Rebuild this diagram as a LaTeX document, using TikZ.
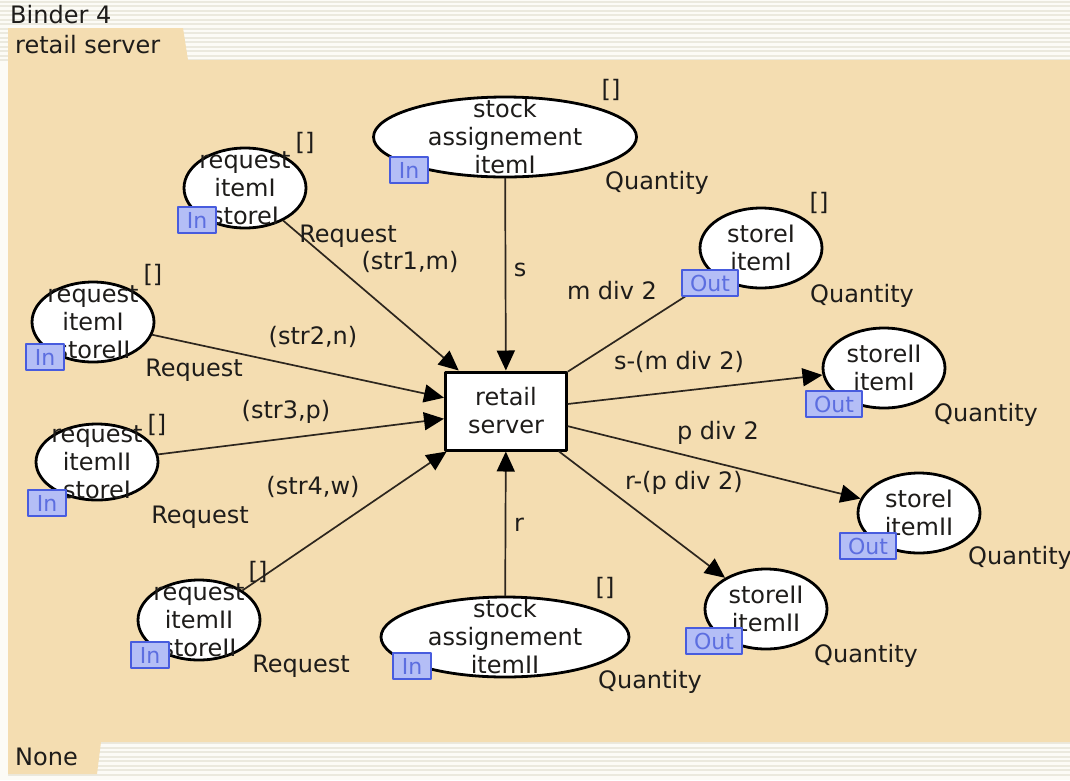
\documentclass[tikz,border=0pt]{standalone}
\usepackage{fontspec}
\setmainfont{DejaVu Sans}
\usetikzlibrary{arrows.meta,shapes.geometric}

\definecolor{sheet}{RGB}{244,221,177}
\definecolor{paper}{RGB}{252,251,246}
\definecolor{stripe}{RGB}{235,233,222}
\definecolor{ink}{RGB}{30,28,26}
\definecolor{arcline}{RGB}{45,38,30}
\definecolor{tagfill}{RGB}{180,190,246}
\definecolor{tagline}{RGB}{72,92,222}
\definecolor{tagtext}{RGB}{92,110,224}

\newcommand{\netfont}{\fontsize{24}{28}\selectfont}
\newcommand{\tagfont}{\fontsize{22}{24}\selectfont}

\tikzset{
  place/.style={ellipse,draw=black,line width=2.8pt,fill=white,inner sep=0pt},
  placetext/.style={align=center,font=\netfont,text=ink,inner sep=0pt},
  trans/.style={rectangle,draw=black,line width=3pt,fill=white,align=center,
    font=\netfont,text=ink,minimum width=121,minimum height=78},
  arc/.style={draw=arcline,line width=1.7pt},
  lbl/.style={font=\netfont,text=ink,inner sep=0pt},
  port/.style={rectangle,draw=tagline,line width=1.4pt,fill=tagfill,text=tagtext,
    font=\tagfont,inner sep=0pt,minimum height=26},
  intag/.style={port,minimum width=38},
  outtag/.style={port,minimum width=56}
}

\begin{document}
\begin{tikzpicture}[x=1pt,y=-1pt,>={Triangle[length=20pt,width=18pt,color=black]},line cap=round,line join=round]
\useasboundingbox (0,0) rectangle (1070,780);
% window: striped bars, tabs and the sheet
\fill[paper] (0,0) rectangle (1070,780);
\foreach \y in {1.5,6,...,60} \draw[stripe,line width=2pt,line cap=butt] (0,\y) -- (1070,\y);
\foreach \y in {743,747.5,...,776} \draw[stripe,line width=2pt,line cap=butt] (8,\y) -- (1070,\y);
\fill[sheet] (8,28) -- (183,28) -- (188,60) -- (1070,60) -- (1070,742)
  -- (101,742) -- (97,774) -- (8,774) -- cycle;
\node[lbl,anchor=west] (binder) at (10,15) {Binder 4};
\node[lbl,anchor=west] (pagetab) at (15,45) {retail server};
\node[lbl,anchor=west] (statustab) at (15,757) {None};

% places
\node[place,minimum width=263,minimum height=80] (stockI) at (505,137) {};
\node[place,minimum width=122,minimum height=80] (reqIsI) at (245,188) {};
\node[place,minimum width=122,minimum height=80] (reqIsII) at (93,322) {};
\node[place,minimum width=122,minimum height=76] (reqIIsI) at (97,462) {};
\node[place,minimum width=122,minimum height=80] (reqIIsII) at (199,620) {};
\node[place,minimum width=248,minimum height=80] (stockII) at (505,637) {};
\node[place,minimum width=122,minimum height=80] (sIiI) at (761,248) {};
\node[place,minimum width=122,minimum height=80] (sIIiI) at (884,368) {};
\node[place,minimum width=122,minimum height=80] (sIiII) at (919,513) {};
\node[place,minimum width=122,minimum height=80] (sIIiII) at (766,609) {};

\node[placetext] (stockItxt) at (stockI) {stock\\assignement\\itemI};
\node[placetext] (reqIsItxt) at (reqIsI) {request\\itemI\\storeI};
\node[placetext] (reqIsIItxt) at (reqIsII) {request\\itemI\\storeII};
\node[placetext] (reqIIsItxt) at (reqIIsI) {request\\itemII\\storeI};
\node[placetext] (reqIIsIItxt) at (reqIIsII) {request\\itemII\\storeII};
\node[placetext] (stockIItxt) at (stockII) {stock\\assignement\\itemII};
\node[placetext] (sIiItxt) at (sIiI) {storeI\\itemI};
\node[placetext] (sIIiItxt) at (sIIiI) {storeII\\itemI};
\node[placetext] (sIiIItxt) at (sIiII) {storeI\\itemII};
\node[placetext] (sIIiIItxt) at (sIIiII) {storeII\\itemII};

% transition
\node[trans] (server) at (506,411) {retail\\server};

% arcs in
\draw[arc,->] (stockI) -- (server);
\draw[arc,->] (reqIsI) -- (server);
\draw[arc,->] (reqIsII) -- (server);
\draw[arc,->] (reqIIsI) -- (server);
\draw[arc,->] (reqIIsII) -- (server);
\draw[arc,->] (stockII) -- (server);
% arcs out
\draw[arc,->] (server) -- (sIiI);
\draw[arc,->] (server) -- (sIIiI);
\draw[arc,->] (server) -- (sIiII);
\draw[arc,->] (server) -- (sIIiII);

% arc inscriptions
\node[lbl] (insS) at (520,270) {s};
\node[lbl] (insStrI) at (410,262) {(str1,m)};
\node[lbl] (insStrII) at (313,337) {(str2,n)};
\node[lbl] (insStrIII) at (286,412) {(str3,p)};
\node[lbl] (insStrIV) at (313,487) {(str4,w)};
\node[lbl] (insR) at (519,525) {r};
\node[lbl] (insMdiv) at (612,291) {m div 2};
\node[lbl] (insSmdiv) at (679,362) {s-(m div 2)};
\node[lbl] (insPdiv) at (718,433) {p div 2};
\node[lbl] (insRpdiv) at (684,483) {r-(p div 2)};

% colour sets
\node[lbl] (tyStockI) at (657,183) {Quantity};
\node[lbl] (tyReqIsI) at (348,236) {Request};
\node[lbl] (tyReqIsII) at (194,370) {Request};
\node[lbl] (tyReqIIsI) at (200,517) {Request};
\node[lbl] (tyReqIIsII) at (301,666) {Request};
\node[lbl] (tyStockII) at (650,682) {Quantity};
\node[lbl] (tySIiI) at (862,296) {Quantity};
\node[lbl] (tySIIiI) at (986,415) {Quantity};
\node[lbl,anchor=west] (tySIiII) at (968,558) {Quantity};
\node[lbl] (tySIIiII) at (866,656) {Quantity};

% initial markings
\node[lbl] (mkStockI) at (611,90) {[]};
\node[lbl] (mkReqIsI) at (305,143) {[]};
\node[lbl] (mkReqIsII) at (153,275) {[]};
\node[lbl] (mkReqIIsI) at (157,425) {[]};
\node[lbl] (mkReqIIsII) at (258,572) {[]};
\node[lbl] (mkStockII) at (605,588) {[]};
\node[lbl] (mkSIiI) at (819,203) {[]};

% port tags
\node[intag] (pStockI) at (409,170) {In};
\node[intag] (pReqIsI) at (197,220) {In};
\node[intag] (pReqIsII) at (45,357) {In};
\node[intag] (pReqIIsI) at (47,503) {In};
\node[intag] (pReqIIsII) at (150,655) {In};
\node[intag] (pStockII) at (412,666) {In};
\node[outtag] (pSIiI) at (710,283) {Out};
\node[outtag] (pSIIiI) at (834,404) {Out};
\node[outtag] (pSIiII) at (868,546) {Out};
\node[outtag] (pSIIiII) at (714,641) {Out};
\end{tikzpicture}
\end{document}
